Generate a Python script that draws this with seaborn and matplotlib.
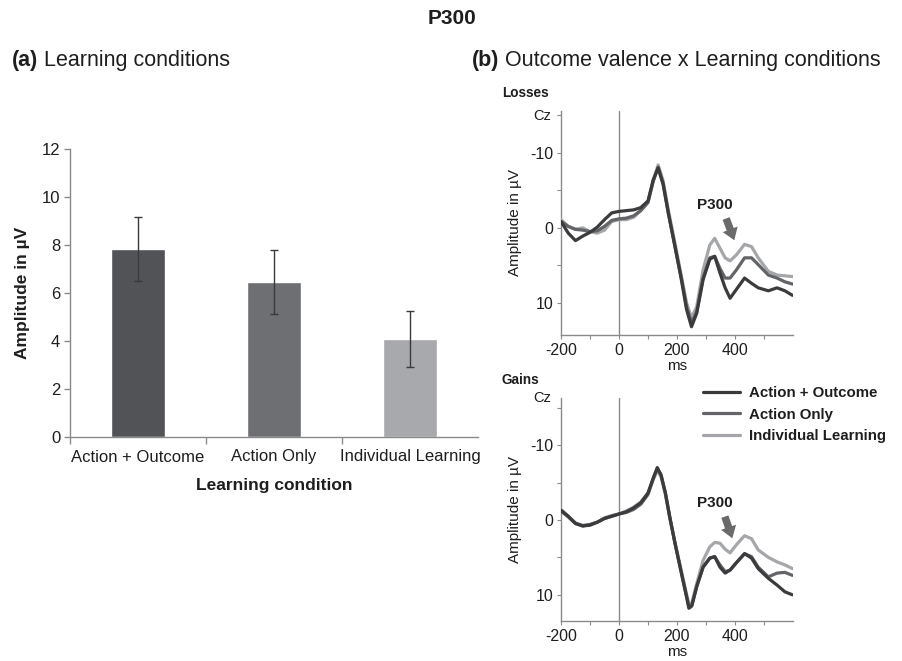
import numpy as np
import pandas as pd
import matplotlib
matplotlib.use("Agg")
import matplotlib.pyplot as plt
from matplotlib.ticker import FixedLocator
import seaborn as sns

# ---- data -------------------------------------------------------------
conditions = ["Action + Outcome", "Action Only", "Individual Learning"]
bar_means = [7.85, 6.45, 4.1]
bar_sem = [1.33, 1.34, 1.17]

ms_losses = [-200, -175, -150, -125, -100, -75, -50, -25, 0, 25, 50, 75, 100,
             118, 135, 152, 170, 193, 215, 233, 250, 268, 290, 313, 330, 348,
             366, 383, 405, 433, 457, 480, 515, 545, 572, 598]
losses_action_outcome = [-0.85, 0.7, 1.7, 1.1, 0.6, -0.1, -1.1, -2.0, -2.2, -2.3,
                         -2.4, -2.7, -3.6, -6.4, -8.0, -5.8, -2.0, 2.5, 6.9, 10.9,
                         13.2, 11.4, 6.9, 4.2, 3.8, 6.0, 8.0, 9.4, 8.2, 6.7, 7.4,
                         8.0, 8.4, 8.0, 8.4, 9.0]
losses_action_only = [-0.85, -0.2, 0.2, 0.3, 0.5, 0.4, -0.2, -1.0, -1.2, -1.3,
                      -1.6, -2.3, -3.4, -6.2, -8.1, -6.0, -2.0, 2.5, 6.7, 10.5,
                      12.7, 11.2, 6.7, 4.0, 3.8, 5.4, 6.7, 6.7, 5.6, 4.0, 4.0,
                      4.9, 6.3, 6.7, 7.2, 7.5]
losses_individual = [-1.1, -0.2, 0.2, 0.0, 0.5, 0.7, 0.3, -0.85, -1.1, -1.1,
                     -1.4, -2.3, -3.4, -6.4, -8.4, -6.3, -2.4, 2.0, 6.4, 10.0,
                     12.0, 10.5, 5.6, 2.3, 1.4, 2.7, 4.0, 4.4, 3.6, 2.2, 2.5,
                     4.0, 5.8, 6.3, 6.4, 6.5]

ms_gains = [-200, -175, -150, -125, -100, -75, -50, -25, 0, 25, 50, 75, 100,
            118, 132, 145, 160, 175, 193, 215, 233, 241, 251, 268, 290, 313,
            330, 348, 366, 383, 405, 433, 457, 480, 515, 545, 572, 598]
gains_action_outcome = [-1.3, -0.5, 0.45, 0.8, 0.7, 0.3, -0.2, -0.5, -0.8, -1.1,
                        -1.6, -2.3, -3.6, -5.6, -7.0, -6.0, -3.6, -0.4, 3.1, 7.1,
                        10.3, 11.8, 11.5, 8.9, 6.3, 5.1, 4.9, 6.3, 7.1, 6.7, 5.7,
                        4.5, 5.1, 6.5, 7.8, 8.7, 9.6, 10.0]
gains_action_only = [-1.2, -0.4, 0.5, 0.8, 0.6, 0.3, -0.2, -0.5, -0.8, -1.0,
                     -1.4, -2.1, -3.4, -5.5, -6.9, -6.0, -3.6, -0.4, 3.1, 7.0,
                     10.2, 11.6, 11.4, 8.9, 6.3, 5.1, 4.9, 6.0, 6.9, 6.7, 5.7,
                     4.5, 4.9, 6.3, 7.6, 7.1, 7.0, 7.4]
gains_individual = [-1.4, -0.5, 0.4, 0.7, 0.6, 0.3, -0.3, -0.6, -0.8, -1.2,
                    -1.7, -2.4, -3.6, -5.4, -6.6, -5.8, -3.4, -0.3, 3.0, 6.8,
                    9.9, 11.2, 11.1, 8.5, 5.4, 3.6, 3.0, 3.1, 3.9, 4.4, 3.3,
                    2.1, 2.5, 4.0, 5.0, 5.6, 6.0, 6.5]

# ---- style ------------------------------------------------------------
bar_colors = ["#525356", "#6e6f73", "#a8a9ac"]
line_colors = ["#3b3b3e", "#636468", "#a5a6a9"]
axis_grey = "#8a8a8a"
text_col = "#1e1e1e"

sns.set_theme(style="white")
plt.rcParams["font.family"] = ["Liberation Sans", "DejaVu Sans"]
plt.rcParams["axes.unicode_minus"] = False
plt.rcParams["text.color"] = text_col
plt.rcParams["axes.labelcolor"] = text_col
plt.rcParams["xtick.color"] = axis_grey
plt.rcParams["ytick.color"] = axis_grey
plt.rcParams["xtick.labelcolor"] = text_col
plt.rcParams["ytick.labelcolor"] = text_col

W, H = 903, 661
fig = plt.figure(figsize=(W / 100, H / 100), dpi=100)


def frac_box(left, top, right, bottom):
    return [left / W, 1 - bottom / H, (right - left) / W, (bottom - top) / H]


# ---- (a) bar chart ----------------------------------------------------
ax_bar = fig.add_axes(frac_box(70, 149, 478, 437))
bar_df = pd.DataFrame({"condition": conditions, "amplitude": bar_means})
sns.barplot(data=bar_df, x="condition", y="amplitude", hue="condition",
            palette=bar_colors, order=conditions, hue_order=conditions,
            width=0.39, errorbar=None, legend=False, ax=ax_bar,
            saturation=1)
ax_bar.errorbar(np.arange(len(conditions)), bar_means, yerr=bar_sem,
                fmt="none", ecolor="#3a3a3a", elinewidth=1.0, capsize=3,
                capthick=1.0)
ax_bar.set_xlim(-0.5, 2.5)
ax_bar.set_ylim(0, 12)
ax_bar.set_yticks(np.arange(0, 13, 2))
ax_bar.xaxis.set_minor_locator(FixedLocator([-0.5, 0.5, 1.5]))
ax_bar.tick_params(axis="x", which="major", length=0, labelsize=12, pad=9)
ax_bar.tick_params(axis="x", which="minor", length=5, width=1, direction="out",
                   bottom=True)
ax_bar.tick_params(axis="y", length=4, width=1, direction="out", left=True,
                   labelsize=12, pad=3)
ax_bar.set_xlabel("Learning condition", fontsize=12.5, fontweight="bold",
                  labelpad=10)
ax_bar.set_ylabel("Amplitude in µV", fontsize=12.5, fontweight="bold")
ax_bar.yaxis.set_label_coords(-0.098, 0.5)
for side in ("top", "right"):
    ax_bar.spines[side].set_visible(False)
for side in ("left", "bottom"):
    ax_bar.spines[side].set_color(axis_grey)
    ax_bar.spines[side].set_linewidth(1.0)


# ---- (b) ERP waveforms ------------------------------------------------
def erp_frame(ms, series):
    parts = []
    for name, vals in zip(conditions, series):
        parts.append(pd.DataFrame({"ms": ms, "amp": vals, "condition": name}))
    return pd.concat(parts, ignore_index=True)


losses_df = erp_frame(ms_losses, [losses_action_outcome, losses_action_only,
                                  losses_individual])
gains_df = erp_frame(ms_gains, [gains_action_outcome, gains_action_only,
                                gains_individual])

ax_loss = fig.add_axes(frac_box(561, 111, 793, 335))
ax_gain = fig.add_axes(frac_box(561, 398, 793, 621))

panels = [(ax_loss, losses_df, (14.3, -15.6), -3.1, (366, -1.6), (401, 2.0)),
          (ax_gain, gains_df, (13.5, -16.3), -2.3, (362, -0.8), (394, 2.8))]

for ax, df, ylim, label_amp, arrow_tail, arrow_head in panels:
    ax.axvline(0, color=axis_grey, lw=1.0, zorder=1)
    sns.lineplot(data=df, x="ms", y="amp", hue="condition",
                 hue_order=conditions[::-1], palette=line_colors[::-1],
                 estimator=None, lw=2.3, legend=False, ax=ax, zorder=3)
    ax.set_xlim(-200, 600)
    ax.set_ylim(*ylim)
    ax.set_xticks([-200, 0, 200, 400])
    ax.xaxis.set_minor_locator(FixedLocator([-100, 100, 300, 500]))
    ax.set_yticks([-10, 0, 10])
    ax.yaxis.set_minor_locator(FixedLocator([-15, -5, 5]))
    ax.tick_params(axis="both", which="both", direction="out", length=3,
                   width=0.8, labelsize=11.5, pad=2.5)
    ax.tick_params(axis="x", which="both", bottom=True)
    ax.tick_params(axis="y", which="both", left=True)
    ax.set_xlabel("ms", fontsize=11, labelpad=1)
    ax.set_ylabel("Amplitude in µV", fontsize=11)
    ax.yaxis.set_label_coords(-0.17, 0.5)
    for side in ("top", "right"):
        ax.spines[side].set_visible(False)
    for side in ("left", "bottom"):
        ax.spines[side].set_color(axis_grey)
        ax.spines[side].set_linewidth(1.0)
    ax.annotate("", xy=arrow_head, xytext=arrow_tail,
                arrowprops=dict(arrowstyle="simple,head_width=0.95,"
                                "head_length=0.7,tail_width=0.45",
                                color="#6a6a6a", lw=0))
    ax.text(331, label_amp, "P300", fontsize=11, fontweight="bold",
            ha="center", va="center")

# legend for the waveform panels
handles = [plt.Line2D([], [], color=c, lw=2.3) for c in line_colors]
leg = ax_gain.legend(handles, conditions, loc="upper left",
                     bbox_to_anchor=(703 / W, 1 - 386 / H),
                     bbox_transform=fig.transFigure, frameon=False,
                     borderpad=0, borderaxespad=0, handlelength=2.5,
                     handletextpad=0.55, labelspacing=0.5,
                     prop={"weight": "bold", "size": 10.8})

# ---- titles and labels ------------------------------------------------
fig.text(452 / W, 1 - 18 / H, "P300", fontsize=15, fontweight="bold",
         ha="center", va="center")


def panel_heading(x, tag, title):
    t = fig.text(x / W, 1 - 71 / H, tag, fontsize=15.5, fontweight="bold",
                 ha="left", va="bottom")
    fig.add_artist(matplotlib.text.Annotation(
        " " + title, xy=(1, 0), xycoords=t, fontsize=15.5, ha="left",
        va="bottom", annotation_clip=False))


panel_heading(12, "(a)", "Learning conditions")
panel_heading(472, "(b)", "Outcome valence x Learning conditions")

fig.text(502 / W, 1 - 93 / H, "Losses", fontsize=9.8, fontweight="bold",
         ha="left", va="center")
fig.text(533 / W, 1 - 116 / H, "Cz", fontsize=10.5, ha="left", va="center")
fig.text(502 / W, 1 - 380 / H, "Gains", fontsize=9.8, fontweight="bold",
         ha="left", va="center")
fig.text(533 / W, 1 - 398 / H, "Cz", fontsize=10.5, ha="left", va="center")

fig.savefig("out.png", dpi=100, facecolor="white")
